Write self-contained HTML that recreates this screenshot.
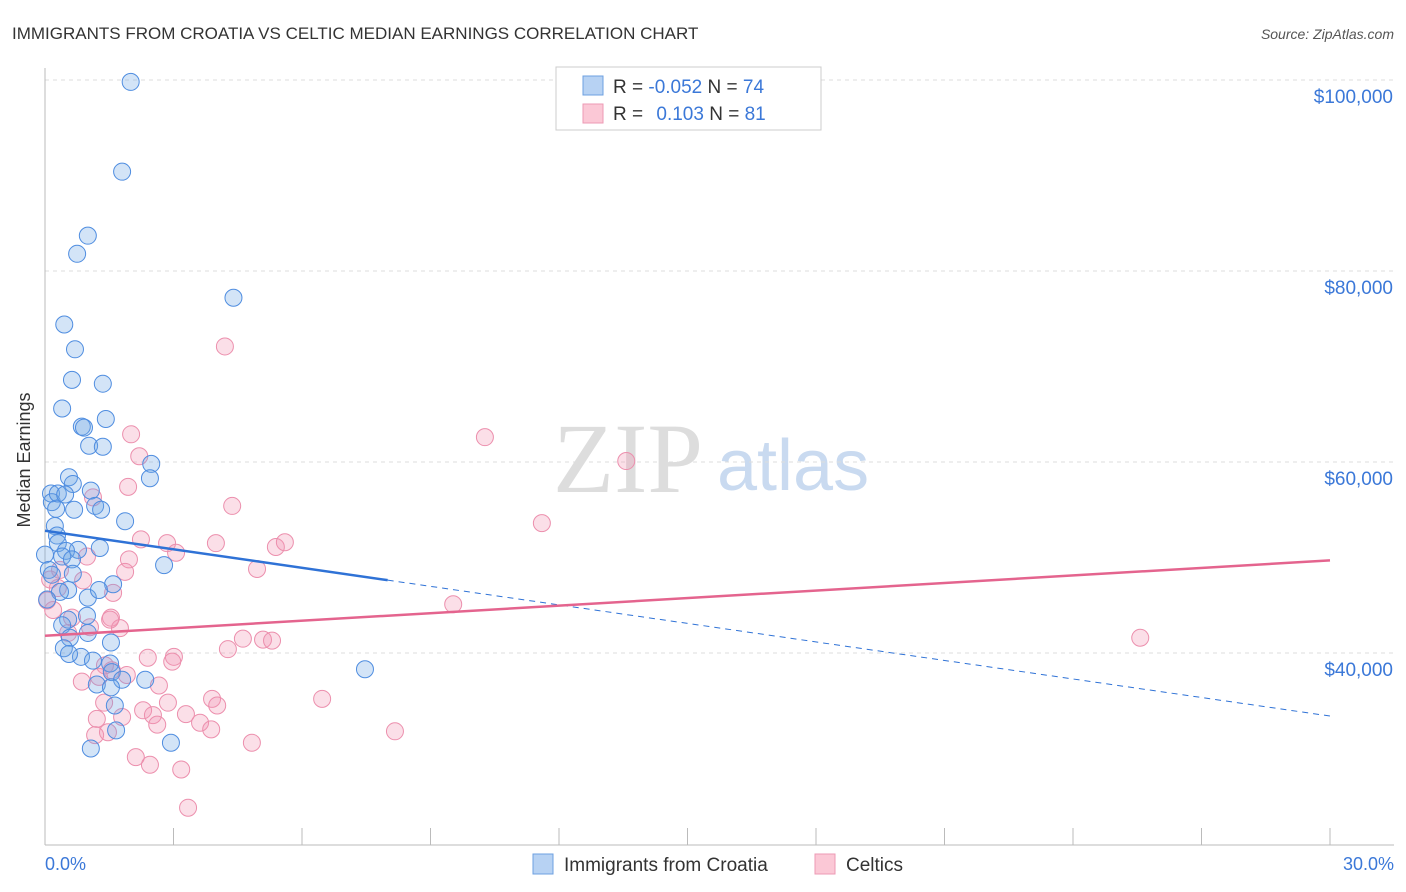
<!DOCTYPE html>
<html><head><meta charset="utf-8">
<style>
body{margin:0;background:#fff;font-family:"Liberation Sans",sans-serif;}
svg{display:block}
</style></head>
<body>
<svg id="chart" width="1406" height="892" xmlns="http://www.w3.org/2000/svg">
<text x="12" y="39" font-size="17" fill="#333">IMMIGRANTS FROM CROATIA VS CELTIC MEDIAN EARNINGS CORRELATION CHART</text>
<text x="1394" y="39" font-size="14" fill="#555" font-style="italic" text-anchor="end">Source: ZipAtlas.com</text>
<g>
<text x="553" y="492" font-family="Liberation Serif,serif" font-size="100" fill="#ddd">ZIP</text>
<text x="717" y="490" font-size="72" fill="#c9daf0">atlas</text>
</g>
<g id="grid"></g>
<line x1="45" y1="68" x2="45" y2="845" stroke="#bbb"/>
<line x1="45" y1="845" x2="1394" y2="845" stroke="#bbb"/>
<g id="xticks"></g>
<text x="26" y="456" font-size="18" fill="#333" transform="rotate(-90 30 456)" text-anchor="middle">Median Earnings</text>
<text x="45" y="870" font-size="18" fill="#3b78d8">0.0%</text>
<text x="1394" y="870" font-size="18" fill="#3b78d8" text-anchor="end">30.0%</text>
<g id="pts"></g>
<g id="trends"></g>
<g>
<rect x="556" y="67" width="265" height="63" fill="#fff" stroke="#ccc"/>
<rect x="583" y="76" width="20" height="19" fill="#b7d2f3" stroke="#6ea0e0"/>
<rect x="583" y="104" width="20" height="19" fill="#fbc8d6" stroke="#ec9ab4"/>
<text x="613" y="93" font-size="19" fill="#333">R = <tspan fill="#3b78d8">-0.052</tspan>   N = <tspan fill="#3b78d8">74</tspan></text>
<text x="613" y="120" font-size="19" fill="#333">R =   <tspan fill="#3b78d8" dx="8">0.103</tspan>   N =  <tspan fill="#3b78d8">81</tspan></text>
</g>
<g>
<rect x="533" y="854" width="20" height="20" fill="#b7d2f3" stroke="#6ea0e0"/>
<text x="564" y="871" font-size="19" fill="#333">Immigrants from Croatia</text>
<rect x="815" y="854" width="20" height="20" fill="#fbc8d6" stroke="#ec9ab4"/>
<text x="846" y="871" font-size="19" fill="#333">Celtics</text>
</g>
</svg>
<script>
const yTicks=[100000,80000,60000,40000];
const yTickLabels=["$100,000","$80,000","$60,000","$40,000"];
const xTickPct=[0,3,6,9,12,15,18,21,24,27,30];
const croatiaX=[2.0,1.8,1.0,0.75,4.4,0.45,0.7,0.63,1.35,0.4,1.42,0.86,0.91,1.03,1.35,2.48,0.56,0.65,1.07,0.14,0.16,0.26,0.68,1.17,1.31,1.87,0.23,0.28,0.3,1.28,0.77,0.49,0.4,0.63,0.0,2.78,0.09,0.16,0.65,1.59,0.54,0.35,1.0,1.26,0.05,0.98,0.54,0.4,1.0,0.58,1.54,0.44,0.84,1.12,1.52,1.56,1.8,1.21,1.54,2.34,7.47,1.63,1.66,2.94,1.07,0.56,0.3,0.47,2.45];
const croatiaY=[99800,90400,83700,81800,77200,74400,71800,68600,68200,65600,64500,63700,63600,61700,61600,59800,58400,57700,57000,56700,55800,55100,55000,55400,55000,53800,53300,52300,51500,51000,50800,50700,50100,49800,50300,49200,48700,48200,48300,47200,46600,46400,45800,46600,45600,43900,43500,42900,42100,41600,41100,40500,39600,39200,38900,38000,37200,36700,36400,37200,38300,34500,31900,30600,30000,39900,56700,56600,58300];
const celticX=[4.2,10.27,13.57,11.6,25.57,9.53,6.47,8.17,2.01,2.2,1.94,4.37,2.24,2.85,3.06,3.99,5.39,5.6,4.95,1.96,1.87,0.98,1.12,0.89,1.59,0.3,0.19,0.63,1.54,1.75,1.05,0.54,4.27,4.62,5.09,5.3,2.4,3.01,2.97,0.86,1.26,1.56,1.91,2.66,1.38,1.8,1.21,1.17,1.47,2.29,2.52,2.62,2.87,3.29,3.62,3.88,3.9,4.02,4.83,2.12,2.45,3.18,3.34,0.12,0.35,0.05,1.52,1.4];
const celticY=[72100,62600,60100,53600,41600,45100,35200,31800,62900,60600,57400,55400,51900,51500,50500,51500,51100,51600,48800,49800,48500,50100,56300,47600,46300,46800,44500,43700,43700,42600,42700,42100,40400,41500,41400,41300,39500,39600,39100,37000,37500,38200,37700,36600,34800,33300,33100,31400,31700,34000,33500,32500,34800,33600,32700,32000,35200,34500,30600,29100,28300,27800,23800,47700,48700,45500,43500,38700];
const croatiaTrend=[52800,33400];
const celticTrend=[41800,49700];
const croatiaSolidEnd=8;
const NS="http://www.w3.org/2000/svg";
const xs=v=>45+v/30*1285;
const ys=v=>80+(100000-v)/20000*191;
function mk(tag,attrs,parent){const e=document.createElementNS(NS,tag);for(const k in attrs)e.setAttribute(k,attrs[k]);parent.appendChild(e);return e;}
const grid=document.getElementById('grid');
yTicks.forEach((t,i)=>{
 const l=mk('line',{x1:45,x2:1394,y1:ys(t),y2:ys(t),stroke:'#ddd','stroke-dasharray':'4,4'},grid);
 
 
 const tx=mk('text',{x:1393,y:ys(t)+23,'font-size':19,fill:'#3b78d8','text-anchor':'end'},grid);
 tx.textContent=yTickLabels[i];
 
 
});
const xt=document.getElementById('xticks');
xTickPct.forEach(p=>{
 const l=mk('line',{x1:xs(p),x2:xs(p),y1:828,y2:845,stroke:'#bbb'},xt);
 
 
});
const pts=document.getElementById('pts');
celticX.forEach((x,i)=>{
 const c=mk('circle',{cx:xs(x),cy:ys(celticY[i]),r:8.5,fill:'rgba(242,150,180,0.3)',stroke:'#ec8fad','stroke-width':1},pts);
 
 
});
croatiaX.forEach((x,i)=>{
 const c=mk('circle',{cx:xs(x),cy:ys(croatiaY[i]),r:8.5,fill:'rgba(110,165,230,0.3)',stroke:'#4f8de0','stroke-width':1},pts);
 
 
});
const tr=document.getElementById('trends');
const bMid=croatiaTrend[0]+(croatiaTrend[1]-croatiaTrend[0])*croatiaSolidEnd/30;
let l1=mk('line',{x1:xs(0),y1:ys(croatiaTrend[0]),x2:xs(croatiaSolidEnd),y2:ys(bMid),stroke:'#2f72d6','stroke-width':2.5},tr);


let l2=mk('line',{x1:xs(croatiaSolidEnd),y1:ys(bMid),x2:xs(30),y2:ys(croatiaTrend[1]),stroke:'#2f72d6','stroke-width':1,'stroke-dasharray':'6,5'},tr);


let l3=mk('line',{x1:xs(0),y1:ys(celticTrend[0]),x2:xs(30),y2:ys(celticTrend[1]),stroke:'#e4648e','stroke-width':2.5},tr);


</script>
</body></html>
